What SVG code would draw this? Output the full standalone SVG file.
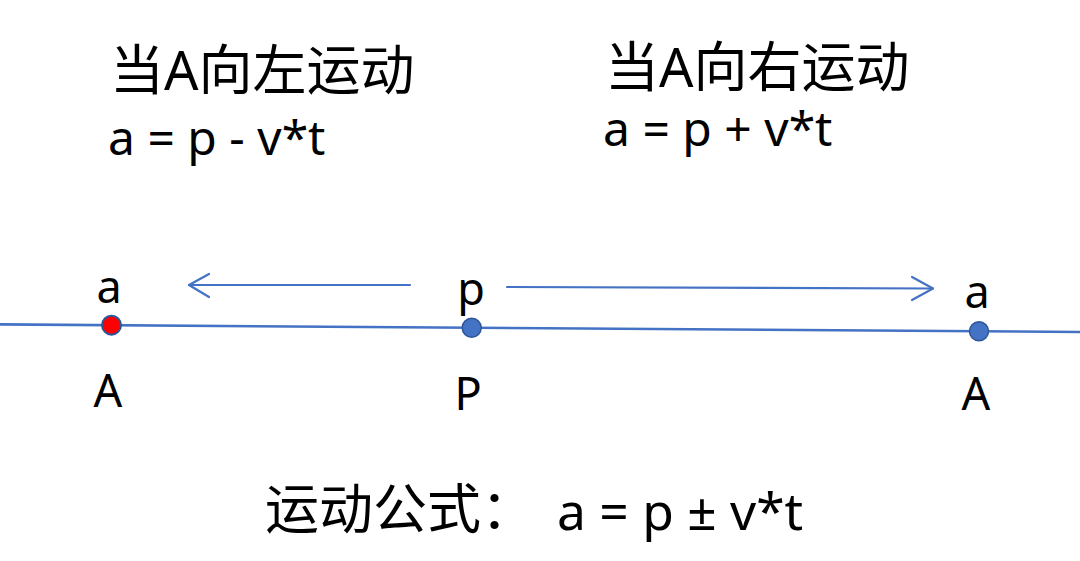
<svg xmlns="http://www.w3.org/2000/svg" width="1080" height="561" viewBox="0 0 1080 561">
  <style>
    text { font-family: "Noto Sans", "Noto Sans CJK SC", sans-serif; fill: #000000; }
    .title { font-size: 54px; }
    .formula { font-size: 48px; }
    .label { font-size: 45px; text-anchor: middle; }
    .axis { stroke: #4472C4; stroke-width: 2.6; fill: none; }
    .arrow { stroke: #4472C4; stroke-width: 2.2; fill: none; stroke-linecap: round; stroke-linejoin: round; }
    .dot { fill: #4472C4; stroke: #2F5597; stroke-width: 1.5; }
    .dot-red { fill: #FF0000; stroke: #2F5597; stroke-width: 2; }
  </style>
  <rect width="1080" height="561" fill="#FFFFFF"/>

  <g id="heading-left">
    <text class="title" x="110" y="90">当A向左运动</text>
    <text class="formula" x="108" y="155">a = p - v*t</text>
  </g>
  <g id="heading-right">
    <text class="title" x="605" y="87">当A向右运动</text>
    <text class="formula" x="603" y="146">a = p + v*t</text>
  </g>

  <g id="connectors">
    <line id="axis" class="axis" x1="0" y1="324.4" x2="1080" y2="332"/>
    <g id="arrow-left">
      <line class="arrow" x1="410" y1="285" x2="189" y2="285"/>
      <polyline class="arrow" points="209,274 189,285 209,297"/>
    </g>
    <g id="arrow-right">
      <line class="arrow" x1="507" y1="287" x2="933" y2="288.5"/>
      <polyline class="arrow" points="912,277 933,288.5 912,300"/>
    </g>
  </g>

  <g id="node-a-left">
    <circle class="dot-red" cx="111.5" cy="325.2" r="9.5"/>
    <text class="label" x="109" y="303">a</text>
    <text class="label" x="108" y="407">A</text>
  </g>
  <g id="node-p">
    <circle class="dot" cx="471.7" cy="327.8" r="9.5"/>
    <text class="label" x="471" y="305">p</text>
    <text class="label" x="468" y="410">P</text>
  </g>
  <g id="node-a-right">
    <circle class="dot" cx="979" cy="331.3" r="9.5"/>
    <text class="label" x="977" y="308">a</text>
    <text class="label" x="976" y="410">A</text>
  </g>

  <g id="summary">
    <text class="title" x="265" y="529">运动公式：</text>
    <text x="557" y="530" style="font-size:51.5px">a = p ± v*t</text>
  </g>
</svg>
